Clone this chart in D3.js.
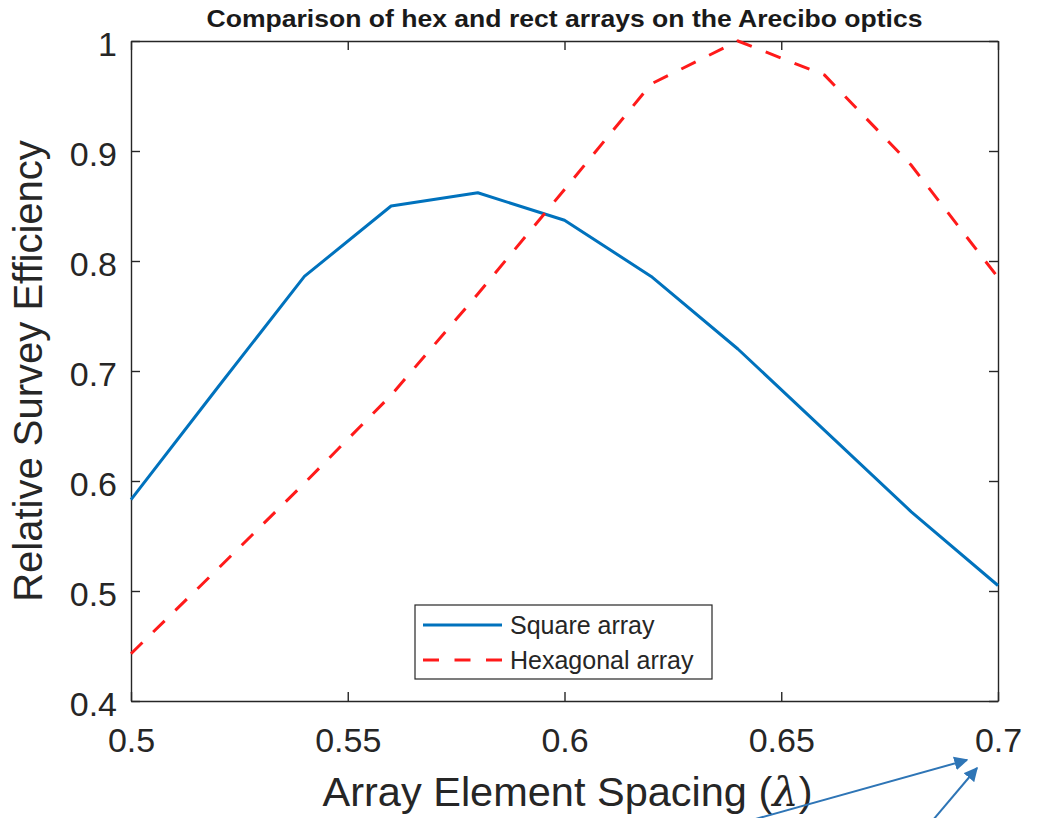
<!DOCTYPE html>
<html>
<head>
<meta charset="utf-8">
<script src="https://cdn.jsdelivr.net/npm/d3@7"></script>
<style>
  html, body { margin: 0; padding: 0; background: #fff; }
  svg { display: block; font-family: "Liberation Sans", Arial, Helvetica, sans-serif; }
</style>
</head>
<body>
<svg id="chart" width="1037" height="818"></svg>
<script>
// Element spacing (in wavelengths) at which both layouts were evaluated
const spacing = [0.50, 0.52, 0.54, 0.56, 0.58, 0.60, 0.62, 0.64, 0.66, 0.68, 0.70];

// Relative survey efficiency for each layout
const squareArray = [0.583, 0.685, 0.786, 0.850, 0.862, 0.837, 0.786, 0.720, 0.646, 0.572, 0.505];
const hexArray    = [0.443, 0.520, 0.598, 0.678, 0.770, 0.865, 0.961, 1.000, 0.969, 0.887, 0.785];

// Tick values and their labels
const xTicks = [0.5, 0.55, 0.6, 0.65, 0.7];
const xTickLabels = ["0.5", "0.55", "0.6", "0.65", "0.7"];
const yTicks = [0.4, 0.5, 0.6, 0.7, 0.8, 0.9, 1];
const yTickLabels = ["0.4", "0.5", "0.6", "0.7", "0.8", "0.9", "1"];

const seriesNames = ["Square array", "Hexagonal array"];

const svg = d3.select("#chart");
const axisColor = "#262626";

const plot = { left: 131, right: 998, top: 41, bottom: 701 };

const x = d3.scaleLinear().domain([0.5, 0.7]).range([plot.left, plot.right]);
const y = d3.scaleLinear().domain([0.4, 1]).range([plot.bottom, plot.top]);

// Axes with inward ticks on all four sides
const tickLen = 9;
const fmtX = (d) => xTickLabels[xTicks.indexOf(d)];
const fmtY = (d) => yTickLabels[yTicks.indexOf(d)];

const bottomAxis = svg.append("g")
  .attr("transform", `translate(0,${plot.bottom})`)
  .call(d3.axisBottom(x).tickValues(xTicks).tickFormat(fmtX).tickSizeInner(-tickLen).tickSizeOuter(0));
const topAxis = svg.append("g")
  .attr("transform", `translate(0,${plot.top})`)
  .call(d3.axisTop(x).tickValues(xTicks).tickFormat("").tickSizeInner(-tickLen).tickSizeOuter(0));
const leftAxis = svg.append("g")
  .attr("transform", `translate(${plot.left},0)`)
  .call(d3.axisLeft(y).tickValues(yTicks).tickFormat(fmtY).tickSizeInner(-tickLen).tickSizeOuter(0).tickPadding(14));
const rightAxis = svg.append("g")
  .attr("transform", `translate(${plot.right},0)`)
  .call(d3.axisRight(y).tickValues(yTicks).tickFormat("").tickSizeInner(-tickLen).tickSizeOuter(0));

[bottomAxis, topAxis, leftAxis, rightAxis].forEach(g => {
  g.select(".domain").attr("stroke", axisColor).attr("stroke-width", 1.4);
  g.selectAll(".tick line").attr("stroke", axisColor).attr("stroke-width", 1.4);
  g.selectAll(".tick text")
    .attr("fill", axisColor)
    .style("font-size", "34px")
    .style("font-family", "'Liberation Sans', Arial, sans-serif");
});
bottomAxis.selectAll(".tick text").attr("dy", null).attr("y", 51);
leftAxis.selectAll(".tick text").attr("dy", "0.42em");

// Data lines
const line = (vals) => d3.line()
  .x((d, i) => x(spacing[i]))
  .y((d) => y(d))(vals);

svg.append("path")
  .attr("d", line(squareArray))
  .attr("fill", "none")
  .attr("stroke", "#0072BD")
  .attr("stroke-width", 3)
  .attr("stroke-linejoin", "round");

svg.append("path")
  .attr("d", line(hexArray))
  .attr("fill", "none")
  .attr("stroke", "#FF1A1A")
  .attr("stroke-width", 3)
  .attr("stroke-dasharray", "16,15");

// Title
svg.append("text")
  .attr("x", (plot.left + plot.right) / 2)
  .attr("y", 27)
  .attr("text-anchor", "middle")
  .attr("fill", "#1a1a1a")
  .style("font-size", "24px")
  .style("font-weight", "bold")
  .attr("textLength", 716)
  .attr("lengthAdjust", "spacingAndGlyphs")
  .text("Comparison of hex and rect arrays on the Arecibo optics");

// Axis labels
const xl = svg.append("text")
  .attr("x", (plot.left + plot.right) / 2 + 3)
  .attr("y", 806)
  .attr("text-anchor", "middle")
  .attr("fill", axisColor)
  .style("font-size", "41.5px");
xl.append("tspan").text("Array Element Spacing (");
xl.append("tspan").style("font-family", "'DejaVu Serif', serif").style("font-style", "italic").text("λ");
xl.append("tspan").text(")");

svg.append("text")
  .attr("transform", `translate(42,${(plot.top + plot.bottom) / 2}) rotate(-90)`)
  .attr("text-anchor", "middle")
  .attr("fill", axisColor)
  .style("font-size", "40px")
  .text("Relative Survey Efficiency");

// Legend
const legend = svg.append("g").attr("transform", "translate(415,605)");
legend.append("rect")
  .attr("width", 297).attr("height", 74)
  .attr("fill", "#fff")
  .attr("stroke", axisColor)
  .attr("stroke-width", 1.2);
const legendItems = [
  { name: seriesNames[0], color: "#0072BD", dash: null },
  { name: seriesNames[1], color: "#FF1A1A", dash: "16,15.5" }
];
legendItems.forEach((it, i) => {
  const cy = 20 + i * 35;
  legend.append("line")
    .attr("x1", 8).attr("x2", 87).attr("y1", cy).attr("y2", cy)
    .attr("stroke", it.color).attr("stroke-width", 3)
    .attr("stroke-dasharray", it.dash);
  legend.append("text")
    .attr("x", 95).attr("y", cy + 9)
    .attr("fill", axisColor)
    .style("font-size", "25px")
    .text(it.name);
});

// Annotation arrows pointing at the 0.7 tick label
const defs = svg.append("defs");
defs.append("marker")
  .attr("id", "arrowhead")
  .attr("viewBox", "0 0 10 10")
  .attr("refX", 9).attr("refY", 5)
  .attr("markerWidth", 7).attr("markerHeight", 7)
  .attr("markerUnits", "strokeWidth")
  .attr("orient", "auto")
  .append("path").attr("d", "M0,0 L10,5 L0,10 Z").attr("fill", "#2E75B6");

const arrowBase = x(0.7);
const arrows = [
  { x1: arrowBase - 246, y1: 820, x2: arrowBase - 31, y2: 760 },
  { x1: arrowBase - 65,  y1: 820, x2: arrowBase - 21, y2: 768 }
];
svg.selectAll("line.arrow").data(arrows).join("line")
  .attr("class", "arrow")
  .attr("x1", d => d.x1).attr("y1", d => d.y1)
  .attr("x2", d => d.x2).attr("y2", d => d.y2)
  .attr("stroke", "#2E75B6")
  .attr("stroke-width", 2)
  .attr("marker-end", "url(#arrowhead)");
</script>
</body>
</html>
